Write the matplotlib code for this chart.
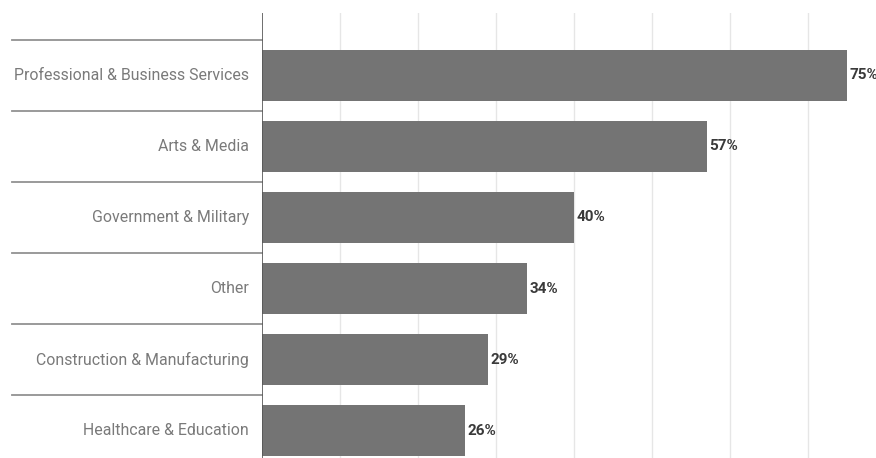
import matplotlib
matplotlib.use("Agg")
import matplotlib.pyplot as plt
from matplotlib.transforms import blended_transform_factory

categories = [
    "Professional & Business Services",
    "Arts & Media",
    "Government & Military",
    "Other",
    "Construction & Manufacturing",
    "Healthcare & Education",
]
shares = [75, 57, 40, 34, 29, 26]
value_labels = ["75%", "57%", "40%", "34%", "29%", "26%"]
grid_ticks = [10, 20, 30, 40, 50, 60, 70]

plt.rcParams["font.family"] = ["Roboto", "DejaVu Sans"]

fig = plt.figure(figsize=(8.76, 4.58), dpi=100)
ax = fig.add_axes([262 / 876, 0.0, 1 - 262 / 876, 1 - 13 / 458])

ypos = list(range(len(categories)))
ax.barh(ypos, shares, height=0.72, color="#747474", zorder=3)

ax.set_xlim(0, 78.7)
ax.set_ylim(5.387, -0.88)

for t in grid_ticks:
    ax.axvline(t, color="#e6e6e6", lw=1.0, zorder=1)

for s in ax.spines.values():
    s.set_visible(False)
ax.axvline(0, color="#555555", lw=1.2, zorder=4)
ax.set_xticks([])
ax.set_yticks([])

# category labels and the separators between rows on the left side
trans = blended_transform_factory(ax.transAxes, ax.transData)
x_left = (12 - 262) / 614
x_text = (249 - 262) / 614
for i, name in enumerate(categories):
    ax.text(x_text, i, name, transform=trans, ha="right", va="center",
            fontsize=11.4, color="#7a7a7a")
    ax.plot([x_left, 0], [i - 0.5, i - 0.5], transform=trans,
            color="#929292", lw=1.3, clip_on=False)
ax.plot([x_left, 0], [len(categories) - 0.5] * 2, transform=trans,
        color="#929292", lw=1.3, clip_on=False)

for i, (v, lab) in enumerate(zip(shares, value_labels)):
    ax.text(v + 0.3, i, lab, ha="left", va="center", fontsize=11,
            fontweight="bold", color="#3a3a3a", clip_on=False)

fig.savefig("out.png", dpi=100)
